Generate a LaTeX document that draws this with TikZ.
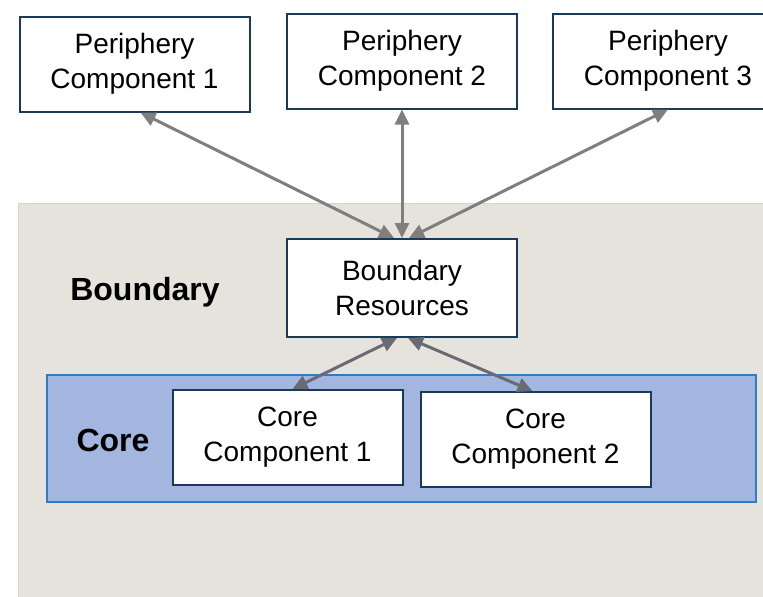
\documentclass[tikz,border=0pt]{standalone}
\usepackage{fontspec}
\setmainfont{Liberation Sans}
\usetikzlibrary{arrows.meta}

\definecolor{bgzone}{HTML}{E6E3DD}
\definecolor{bgedge}{HTML}{D8D5CE}
\definecolor{corefill}{HTML}{A3B6E0}
\definecolor{coreedge}{HTML}{2E7CC8}
\definecolor{boxedge}{HTML}{1B3A57}
\definecolor{linkgray}{HTML}{7F7F7F}
\definecolor{linkdark}{HTML}{686C72}

\tikzset{
  compbox/.style={draw=boxedge, line width=2pt, fill=white, align=center,
    minimum width=230pt, minimum height=95pt, inner sep=0pt,
    font=\fontsize{28}{35}\selectfont},
  zonelabel/.style={font=\fontsize{32}{36}\selectfont\bfseries},
  link/.style={{Triangle[length=15pt,width=14pt]}-{Triangle[length=15pt,width=14pt]},
    line width=3pt, draw=linkgray}
}

\begin{document}
\begin{tikzpicture}[x=1pt, y=-1pt]

\clip (0,0) rectangle (763,597);
\fill[white] (0,0) rectangle (763,597);

% Boundary zone
\draw[fill=bgzone, draw=bgedge, line width=1pt] (18,203) rectangle (800,640);
\node[zonelabel] (boundary) at (145,292) {Boundary};

% Core zone
\draw[fill=corefill, draw=coreedge, line width=1.6pt] (47,375) rectangle (756,502);
\node[zonelabel] (core) at (113,440) {Core};

% Periphery components
\node[compbox] (p1) at (134.5,64) {Periphery\\Component 1};
\node[compbox] (p2) at (402,61) {Periphery\\Component 2};
\node[compbox] (p3) at (668,61) {Periphery\\Component 3};

% Boundary resources
\node[compbox, minimum height=98pt] (br) at (402,288) {Boundary\\Resources};

% Core components
\node[compbox] (cc1) at (287.5,437.5) {Core\\Component 1};
\node[compbox] (cc2) at (535.5,439.5) {Core\\Component 2};

% Links
\draw[link] ([xshift=-8pt]br.north) -- ([xshift=6pt]p1.south);
\draw[link] (br.north) -- (p2.south);
\draw[link] ([xshift=7pt]br.north) -- (p3.south);
\draw[link, draw=linkdark] ([xshift=-5pt]br.south) -- ([xshift=5pt]cc1.north);
\draw[link, draw=linkdark] ([xshift=6pt]br.south) -- ([xshift=-3pt]cc2.north);

\end{tikzpicture}
\end{document}
